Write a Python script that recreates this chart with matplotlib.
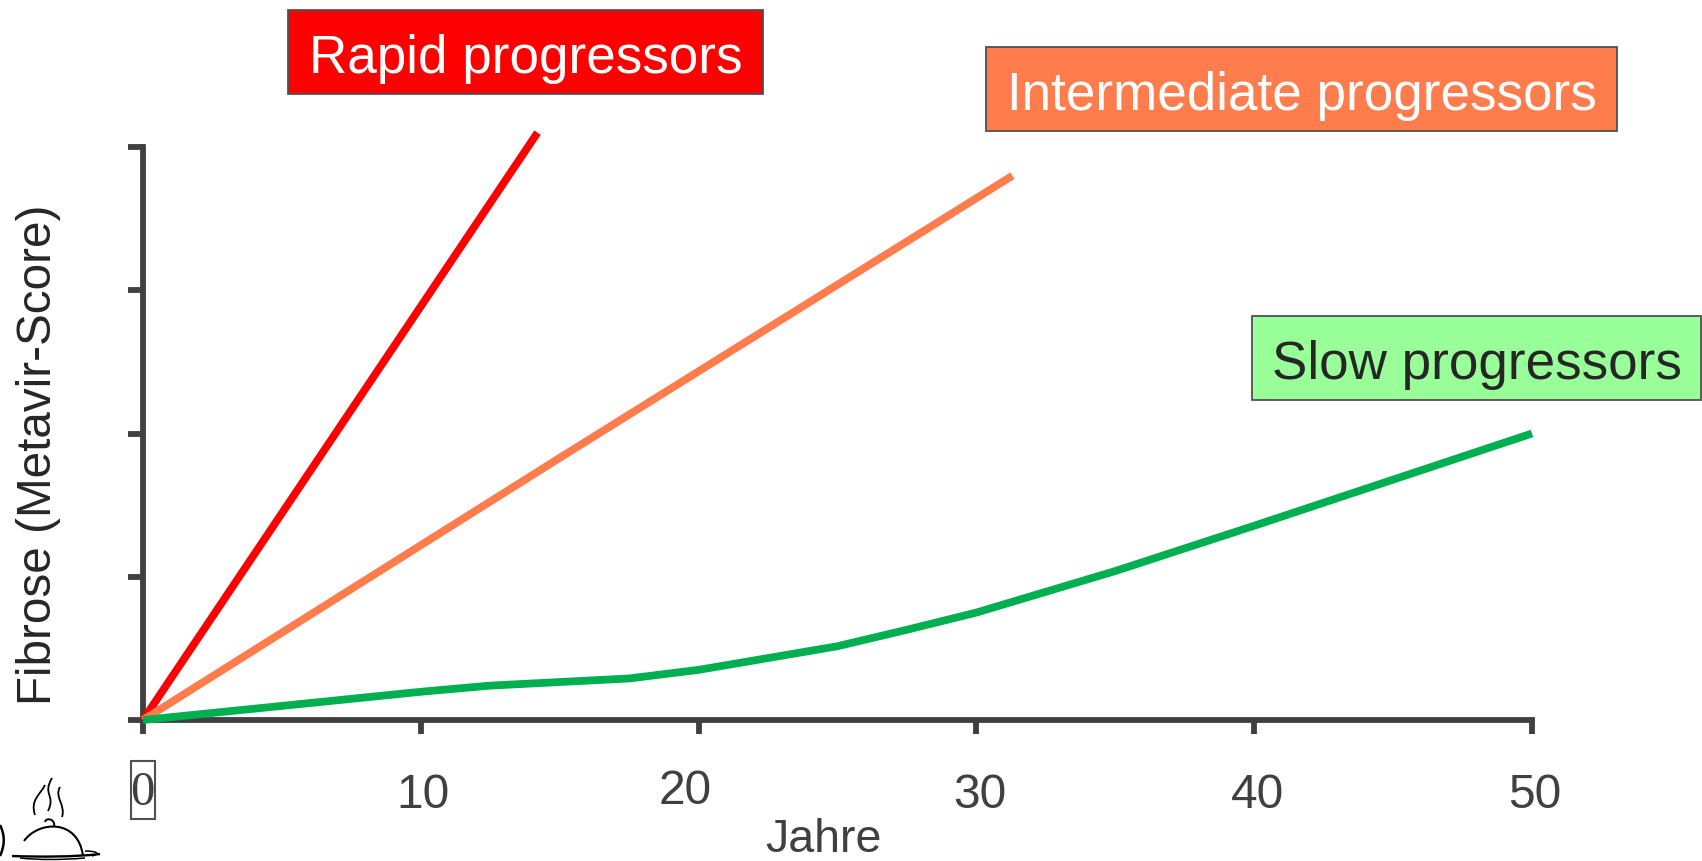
import matplotlib
matplotlib.use('Agg')
import matplotlib.pyplot as plt
from matplotlib.patches import PathPatch, Rectangle
from matplotlib.path import Path
from matplotlib.transforms import Affine2D

plt.rcParams['font.family'] = ['Liberation Sans', 'DejaVu Sans']

W, H = 1702, 861
DARK = '#404040'

rapid_x = [0, 14.2]
rapid_y = [0, 4.1]
intermediate_x = [0, 15, 31.3]
intermediate_y = [0, 1.83, 3.8]
slow_x = [0, 10, 12.5, 17.5, 20, 25, 27.5, 30, 35, 40, 50]
slow_y = [0, 0.197, 0.24, 0.29, 0.35, 0.515, 0.63, 0.75, 1.04, 1.356, 2.0]

x_ticks = [0, 10, 20, 30, 40, 50]
y_ticks = [0, 1, 2, 3, 4]
x_labels = ['10', '20', '30', '40', '50']
x_label_ticks = [10, 20, 30, 40, 50]
label_nudge = [2, -13, 3, 3, 3]
label_drop = [-76, -71, -76, -76, -76]

fig = plt.figure(figsize=(W / 100, H / 100), dpi=100, facecolor='white')
ax = fig.add_axes([143 / W, 1 - 720 / H, (1532 - 143) / W, (720 - 147) / H])
ax.set_xlim(0, 50)
ax.set_ylim(0, 4)
for side in ['top', 'right']:
    ax.spines[side].set_visible(False)
for side in ['left', 'bottom']:
    ax.spines[side].set_linewidth(4.2)
    ax.spines[side].set_color(DARK)

ax.set_xticks(x_ticks)
ax.set_yticks(y_ticks)
ax.set_xticklabels([])
ax.set_yticklabels([])
ax.tick_params(axis='x', direction='out', length=10, width=4.2, color=DARK)
ax.tick_params(axis='y', direction='out', length=10.5, width=4.2, color=DARK)

ax.plot(rapid_x, rapid_y, color='#ff0000', lw=5.6, solid_capstyle='butt', clip_on=False, zorder=3)
ax.plot(intermediate_x, intermediate_y, color='#ff7c4d', lw=5.6, solid_capstyle='butt', clip_on=False, zorder=4)
ax.plot(slow_x, slow_y, color='#00b050', lw=5.6, solid_capstyle='butt', clip_on=False, zorder=5)

# pixel coordinates measured from the top left corner of the canvas
px = Affine2D().scale(1, -1).translate(0, H)


def label_box(x0, y0, x1, y1, face, text, color):
    fig.add_artist(Rectangle((x0, y0), x1 - x0, y1 - y0, transform=px, facecolor=face,
                             edgecolor='#505050', linewidth=1.3))
    fig.text((x0 + x1) / 2 / W, 1 - ((y0 + y1) / 2 + 7) / H, text, color=color, fontsize=38.2,
             ha='center', va='center')


label_box(288, 10, 763, 94, '#ff0000', 'Rapid progressors', 'white')
label_box(986, 47, 1617, 131, '#ff7c4d', 'Intermediate progressors', 'white')
label_box(1252, 316, 1701, 400, '#99ff99', 'Slow progressors', '#262626')

for tick, text, nudge, drop in zip(x_label_ticks, x_labels, label_nudge, label_drop):
    ax.annotate(text, xy=(tick, 0), xycoords='data', xytext=(nudge, drop), textcoords='offset pixels',
                ha='center', va='center', fontsize=34.5, color=DARK)

# the zero label sits in its own thin box and uses a serif face
fig.add_artist(Rectangle((131, 761), 24, 58, transform=px, facecolor='none', edgecolor='#505050', linewidth=1.5))
fig.text(142 / W, 1 - 793 / H, '0', family='Liberation Serif', fontsize=35, color=DARK, ha='center', va='center')

fig.text(823 / W, 1 - 840 / H, 'Jahre', fontsize=33.5, color=DARK, ha='center', va='center')
fig.text(39 / W, 1 - 455 / H, 'Fibrose (Metavir-Score)', fontsize=34.3, color='#262626',
         rotation=90, ha='center', va='center')


def stroke(verts, lw=1.6, color='black'):
    codes = [Path.MOVETO] + [Path.CURVE4] * (len(verts) - 1)
    fig.add_artist(PathPatch(Path(verts, codes), transform=px, facecolor='none', edgecolor=color, linewidth=lw))


# steam above the serving dish
stroke([(45, 785), (40, 795), (30, 800), (35, 815)], 1.3)
stroke([(52, 778), (42, 795), (56, 795), (48, 811)], 1.3)
stroke([(60, 787), (54, 797), (66, 805), (62, 817)], 1.3)
# dome, knob, plate
stroke([(24, 841), (38, 821), (78, 818), (83, 856)], 1.5)
stroke([(45, 822), (46, 817), (56, 819), (54, 827)], 1.4)
stroke([(12, 856), (40, 857), (75, 857), (100, 854)], 1.7)
stroke([(85, 851), (95, 851), (102, 853), (92, 856)], 1.1)
stroke([(20, 858), (40, 860), (60, 860), (85, 858)], 1.1)
# edge of a neighbouring glyph cut off by the canvas
stroke([(0, 825), (5, 835), (5, 845), (0, 856)], 1.8)

fig.savefig('out.png', dpi=100)
